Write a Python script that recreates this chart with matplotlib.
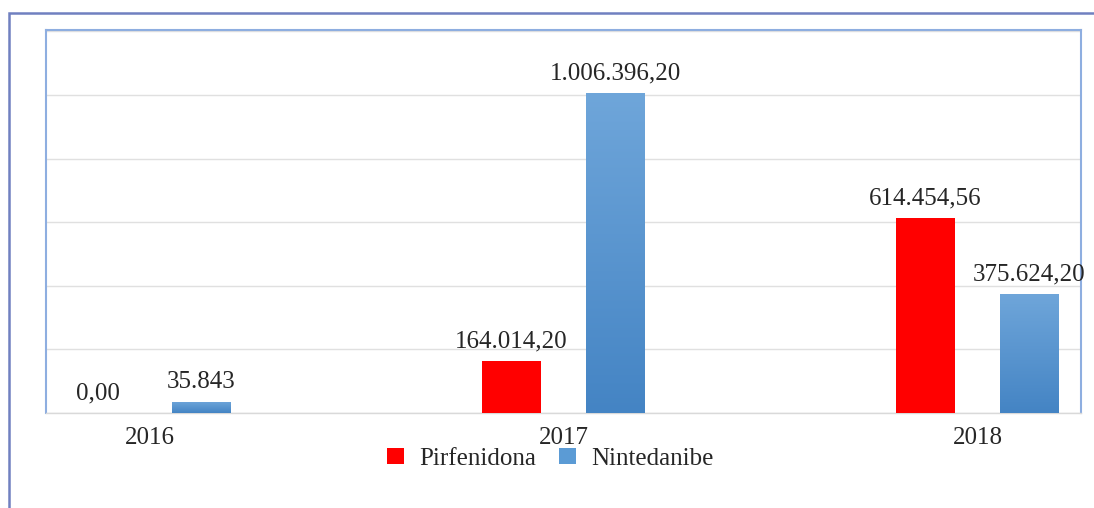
import numpy as np
import matplotlib
matplotlib.use("Agg")
import matplotlib.pyplot as plt
from matplotlib.colors import LinearSegmentedColormap
from matplotlib.patches import Rectangle

# Dados do gráfico
anos = ["2016", "2017", "2018"]
pirfenidona = [0.00, 164014.20, 614454.56]
nintedanibe = [35843.0, 1006396.20, 375624.20]
rotulos_pirf = ["0,00", "164.014,20", "614.454,56"]
rotulos_nint = ["35.843", "1.006.396,20", "375.624,20"]

plt.rcParams["font.family"] = ["Liberation Serif", "DejaVu Serif"]

fig = plt.figure(figsize=(10.94, 5.08), dpi=100)
ax = fig.add_axes([46 / 1094, 1 - 413 / 508, (1081 - 46) / 1094, (413 - 30) / 508])

x = np.arange(len(anos))
largura = 0.1425
desloc = 0.1256

barras_p = ax.bar(x - desloc, pirfenidona, largura, color="#ff0000", label="Pirfenidona", zorder=3)
barras_n = ax.bar(x + desloc, nintedanibe, largura, color="#5b9bd5", label="Nintedanibe", zorder=3)

# gradiente azul (mais claro em cima) recortado em cada barra
cmap = LinearSegmentedColormap.from_list("azul", ["#4484c4", "#6fa6da"])
grad = np.linspace(0, 1, 256).reshape(-1, 1)
for b in barras_n:
    x0, y0, w, h = b.get_x(), b.get_y(), b.get_width(), b.get_height()
    im = ax.imshow(grad, cmap=cmap, origin="lower", aspect="auto",
                   extent=[x0, x0 + w, y0, y0 + h], zorder=3.5)
    im.set_clip_path(b)

ax.set_xlim(-0.25, 2.25)
ax.set_ylim(0, 1204000)
ax.set_yticks(np.arange(0, 1200001, 200000))
ax.yaxis.grid(True, color="#e0e0e0", linewidth=1, zorder=0)
ax.tick_params(axis="y", left=False, labelleft=False)
ax.set_xticks(x)
ax.set_xticklabels(anos, fontsize=18, color="#262626")
ax.tick_params(axis="x", length=0, pad=10)

for lado in ["left", "top", "right"]:
    ax.spines[lado].set_color("#8eaee0")
    ax.spines[lado].set_linewidth(1.5)
ax.spines["bottom"].set_color("#d9d9d9")
ax.spines["bottom"].set_linewidth(1)

for barras, rotulos in [(barras_p, rotulos_pirf), (barras_n, rotulos_nint)]:
    for b, r in zip(barras, rotulos):
        ax.annotate(r, (b.get_x() + b.get_width() / 2, b.get_height()),
                    xytext=(0, 6), textcoords="offset points",
                    ha="center", va="bottom", fontsize=18, color="#262626")

fig.legend(handles=[barras_p, barras_n], labels=["Pirfenidona", "Nintedanibe"],
           loc="center", bbox_to_anchor=(550 / 1094, 1 - 459 / 508), ncol=2,
           frameon=False, fontsize=18, handlelength=0.7, handleheight=0.6,
           handletextpad=0.6, columnspacing=0.9, labelcolor="#262626")

# moldura externa (borda do gráfico no documento)
fig.patches.append(Rectangle((9 / 1094, -0.05), 1.1, 1 - 13 / 508 + 0.05,
                             transform=fig.transFigure, fill=False,
                             edgecolor="#7080c0", linewidth=1.8))

fig.savefig("out.png", dpi=100)
